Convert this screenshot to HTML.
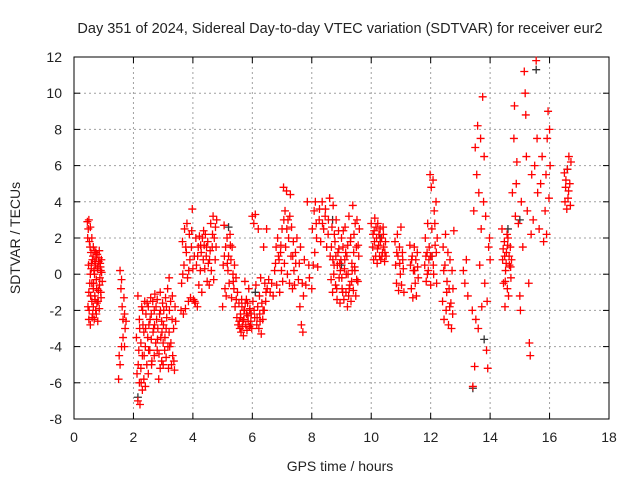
<!DOCTYPE html>
<html><head><meta charset="utf-8"><style>
html,body{margin:0;padding:0;background:#fff}
svg{display:block}
text{font-family:"Liberation Sans",sans-serif;font-size:14px;fill:#222}
</style></head><body>
<svg id="chart" width="640" height="480" viewBox="0 0 640 480">
<text x="340" y="33" text-anchor="middle" style="font-size:14.5px">Day 351 of 2024, Sidereal Day-to-day VTEC variation (SDTVAR) for receiver eur2</text>
<text x="340" y="471" text-anchor="middle">GPS time / hours</text>
<text x="20" y="238" text-anchor="middle" transform="rotate(-90 20 238)">SDTVAR / TECUs</text>
<g id="grid"></g>
<g id="axes"></g>
<g id="marks"></g>
</svg>
<script>
const xTicks=[0,2,4,6,8,10,12,14,16,18];
const yTicks=[-8,-6,-4,-2,0,2,4,6,8,10,12];
const hours=[0.45,0.47,0.48,0.5,0.5,0.52,0.53,0.55,0.55,0.57,0.58,0.6,0.6,0.62,0.63,0.65,0.65,0.67,0.68,0.7,0.7,0.72,0.73,0.75,0.75,0.77,0.78,0.8,0.8,0.82,0.83,0.85,0.85,0.87,0.88,0.9,0.9,0.92,0.95,0.5,0.55,0.6,0.65,0.7,0.75,
1.5,1.52,1.55,1.55,1.58,1.6,1.6,1.62,1.65,1.65,1.68,1.7,1.7,1.72,1.75,
2.1,2.12,2.15,2.15,2.18,2.2,2.2,2.22,2.25,2.25,2.28,2.3,2.3,2.32,2.35,2.35,2.38,2.4,2.4,2.42,2.45,2.48,2.5,2.5,2.52,2.55,2.58,2.6,2.6,2.62,2.65,2.68,2.7,2.7,2.72,2.75,2.78,2.8,2.8,2.82,2.85,2.88,2.9,2.9,2.92,2.95,2.95,2.98,3.0,3.0,3.02,3.05,3.08,3.1,3.1,3.12,3.15,3.18,3.2,3.2,3.22,3.25,3.28,3.3,3.32,3.35,3.38,3.4,3.42,
3.6,3.62,3.65,3.68,3.7,3.72,3.75,3.78,3.8,3.82,3.85,3.88,3.9,3.92,3.95,3.98,4.0,4.02,4.05,4.08,4.1,4.12,4.15,4.18,4.2,4.22,4.25,4.28,4.3,4.32,4.35,4.38,4.4,4.42,4.45,4.48,4.5,4.52,4.55,4.58,4.6,4.62,4.65,4.68,4.7,4.72,4.75,4.78,4.8,
5.0,5.02,5.05,5.08,5.1,5.12,5.15,5.18,5.2,5.22,5.25,5.28,5.3,5.32,5.35,5.38,5.4,5.42,5.45,5.48,5.5,5.52,5.55,5.58,5.6,5.62,5.65,5.68,5.7,5.72,5.75,5.78,5.8,5.82,5.85,5.88,5.9,5.92,5.95,5.98,6.0,6.02,6.05,6.08,6.1,6.12,6.15,6.18,6.2,6.22,6.25,6.28,6.3,6.32,6.35,6.38,6.4,6.42,6.45,6.48,6.5,
6.55,6.6,6.65,6.7,6.75,6.8,6.82,6.85,6.9,6.92,6.95,6.98,7.0,7.02,7.05,7.08,7.1,7.12,7.15,7.18,7.2,7.22,7.25,7.28,7.3,7.32,7.35,7.38,7.4,7.42,7.45,7.5,7.55,7.6,7.62,7.65,7.68,7.7,7.72,7.75,7.8,7.85,7.9,7.92,
8.0,8.02,8.05,8.08,8.1,8.12,8.15,8.2,8.25,8.3,8.35,8.4,8.45,8.5,8.55,8.6,8.62,8.65,8.68,8.7,8.72,8.75,8.78,8.8,8.82,8.85,8.88,8.9,8.92,8.95,8.98,9.0,9.02,9.05,9.08,9.1,9.12,9.15,9.18,9.2,9.22,9.25,9.28,9.3,9.32,9.35,9.38,9.4,9.42,9.45,9.48,9.5,9.52,9.55,9.58,9.6,
10.0,10.05,10.08,10.1,10.12,10.15,10.18,10.2,10.22,10.25,10.28,10.3,10.32,10.35,10.38,10.4,10.42,10.45,10.48,10.5,
10.8,10.82,10.85,10.88,10.9,10.92,10.95,10.98,11.0,11.02,11.05,11.08,11.1,
11.3,11.32,11.35,11.38,11.4,11.42,11.45,11.48,11.5,11.52,11.55,11.58,
11.8,11.82,11.85,11.88,11.9,11.92,11.95,11.98,12.0,12.02,12.05,12.08,12.1,12.12,12.15,12.18,12.2,12.22,
12.4,12.42,12.45,12.48,12.5,12.52,12.55,12.58,12.6,12.62,12.65,12.68,12.7,12.72,12.75,12.78,13.1,13.15,13.2,13.25,
13.4,13.42,13.45,13.48,13.5,13.52,13.55,13.58,13.6,13.62,13.65,13.68,13.7,13.72,13.75,13.78,13.8,13.82,13.85,13.88,13.9,13.92,13.95,13.98,14.0,
14.4,14.42,14.45,14.48,14.5,14.52,14.55,14.58,14.6,14.62,14.65,14.68,14.7,14.72,
14.75,14.8,14.82,14.85,14.88,14.9,14.95,15.0,15.02,15.05,15.1,15.15,15.18,15.2,15.22,15.25,15.3,15.32,15.35,15.38,15.4,15.45,15.5,15.55,15.58,15.6,15.65,15.7,15.75,15.8,15.85,15.88,15.9,15.92,15.95,15.98,16.0,16.02,
16.5,16.52,16.55,16.58,16.6,16.62,16.65,16.68,16.7,16.72];
const sdtvar=[2.9,-1.8,2.5,3.0,-2.5,1.8,-0.5,2.6,-2.8,1.2,0.3,2.0,-1.5,0.8,-2.2,1.5,-0.8,0.2,-2.5,1.3,-1.2,0.5,-2.0,0.9,-0.3,-1.6,1.1,0.4,-2.6,-0.9,0.7,1.3,-1.9,-0.2,0.6,-1.0,0.2,0.8,-0.4,-1.0,0.0,-0.5,-1.8,0.7,-2.2,
-5.8,-4.5,-5.0,0.2,-0.8,-0.3,-4.0,-1.8,-3.5,-2.5,-1.3,-2.2,-4.0,-3.0,-2.6,
-3.5,-5.5,-7.0,-1.2,-4.2,-6.0,-2.5,-7.2,-3.8,-5.2,-1.8,-6.4,-4.5,-2.8,-5.8,-3.2,-1.5,-6.2,-4.0,-2.2,-5.0,-3.5,-1.8,-5.5,-2.8,-4.2,-1.3,-3.6,-2.2,-4.8,-1.5,-3.0,-4.5,-2.0,-1.1,-3.8,-2.5,-4.2,-1.4,-3.0,-5.8,-2.2,-5.2,-1.0,-3.5,-4.8,-2.6,-1.6,-3.8,-5.0,-2.0,-4.2,-1.3,-3.0,-4.6,-2.4,-0.8,-5.2,-3.2,-0.2,-4.0,-1.5,-5.0,-2.5,-4.5,-3.0,-5.3,-1.8,-2.6,
-2.0,-0.5,1.8,-2.2,0.5,2.5,-1.9,1.2,2.8,-0.2,-1.5,2.2,0.8,-1.3,1.5,3.6,0.3,-1.4,1.0,-1.6,2.0,0.5,-1.8,1.5,-0.6,2.1,0.2,1.2,-1.0,2.0,0.8,1.6,0.3,2.2,1.0,-0.4,1.8,0.6,-0.6,1.3,2.8,0.2,1.5,3.2,-0.3,2.0,0.8,1.5,3.0,
-1.8,0.5,2.7,-0.8,1.5,-1.2,2.0,0.2,1.0,-0.5,2.2,0.8,-1.3,1.5,0.0,-0.8,0.5,-1.8,-0.2,-2.4,-1.0,-2.8,-1.6,-3.0,-2.2,-3.2,-1.8,-2.6,-3.4,-2.0,-0.4,-2.8,-1.4,-3.1,-2.3,-0.8,-2.9,-1.9,-2.6,-3.0,3.2,-1.5,2.8,-2.4,3.3,-0.6,-2.8,-1.8,2.5,-3.0,-2.2,-0.2,-3.3,-1.6,-2.5,1.5,-2.0,-0.5,-1.5,2.5,-0.8,
-0.3,-1.0,-0.5,-1.2,0.2,1.5,-0.6,2.0,0.8,-1.0,1.2,0.2,2.5,-0.4,4.8,0.6,3.5,1.5,4.6,0.0,3.0,2.0,-0.5,4.4,1.0,2.6,-0.8,1.8,0.2,-0.6,1.2,2.0,-0.3,-1.8,1.5,-2.8,-0.5,-3.2,-1.2,0.8,-0.6,4.0,0.5,-0.2,
-0.8,2.5,0.5,3.5,1.2,4.0,2.8,0.4,3.0,1.8,4.0,2.5,3.2,1.5,2.2,4.2,1.0,-0.3,2.6,-1.0,3.8,0.5,1.8,-0.6,3.0,-1.4,1.2,2.4,-0.2,-1.6,0.8,2.0,-0.8,1.5,-1.4,0.3,2.6,-1.0,1.0,-1.8,0.0,3.2,-0.6,1.8,-1.5,0.6,3.8,-0.9,2.2,0.2,-1.2,1.5,3.0,-0.4,1.0,2.5,
2.8,1.5,0.8,2.4,3.1,1.0,2.0,0.6,2.8,1.6,1.0,2.5,0.8,2.0,1.2,2.6,1.5,0.7,1.8,1.0,
1.8,0.5,-0.5,2.2,1.0,-0.9,1.5,0.0,2.6,-0.6,1.2,0.3,-1.0,
1.6,0.5,-0.8,1.0,-1.3,0.2,1.5,-0.5,0.8,-1.2,1.2,-0.2,
0.5,2.0,-0.4,1.2,2.8,0.2,1.5,5.5,-0.6,4.8,1.0,5.2,0.0,3.5,1.6,4.0,-0.5,2.0,
-1.5,1.5,-2.5,0.5,2.2,-2.0,-0.4,1.2,-2.8,-0.8,0.8,-1.6,-3.0,0.2,-0.8,2.4,0.2,-0.5,0.8,-1.2,
-2.0,-6.2,3.5,-5.1,7.0,-2.5,5.5,8.2,-3.0,4.5,0.5,7.5,2.5,-1.8,9.8,4.0,6.5,-0.5,3.2,-4.2,-1.5,-5.2,1.5,2.0,0.8,
2.5,0.8,-0.5,1.8,-1.8,0.2,1.2,-0.8,2.0,-1.2,0.5,1.5,-0.2,0.8,
4.5,7.5,9.3,3.2,5.0,6.2,2.8,-1.2,-2.0,4.0,1.5,11.2,10.0,8.8,6.5,3.5,-0.5,-3.8,-4.5,2.2,5.5,3.0,6.0,11.8,7.5,4.5,2.5,5.0,6.5,1.8,3.5,5.5,2.2,7.5,9.0,4.2,8.0,6.0,
5.6,4.0,5.2,3.6,5.8,4.2,6.5,5.0,3.8,6.2];
const hoursExtra=[0.46,0.49,0.51,0.54,0.56,0.59,0.61,0.64,0.66,0.69,0.71,0.74,0.76,0.79,0.81,0.84,0.86,0.89,0.91,0.93,
2.16,2.21,2.26,2.31,2.36,2.41,2.46,2.51,2.56,2.61,2.66,2.71,2.76,2.81,2.86,2.91,2.96,3.01,3.06,3.11,3.16,3.21,3.26,3.31,3.36,
3.66,3.76,3.86,3.96,4.06,4.16,4.26,4.36,4.46,4.56,4.66,4.76,
5.06,5.16,5.26,5.36,5.46,5.56,5.61,5.66,5.71,5.76,5.81,5.86,5.91,5.96,6.06,6.16,6.26,6.36,6.46,5.64,5.74,5.84,5.94,6.24,
6.78,6.88,6.96,7.06,7.16,7.26,7.36,7.46,7.58,
8.16,8.26,8.36,8.46,8.56,8.66,8.71,8.76,8.81,8.86,8.91,8.96,9.01,9.06,9.11,9.16,9.21,9.26,9.31,9.36,9.41,9.46,9.51,9.56,8.74,8.84,8.94,9.04,9.14,9.24,9.34,9.44,
10.06,10.11,10.16,10.21,10.26,10.31,10.36,10.41,10.46,
10.86,10.96,11.06,11.36,11.46,11.56,
11.84,11.89,11.94,11.99,12.04,12.09,12.14,12.19,
12.44,12.54,12.64,12.74,
14.44,14.49,14.54,14.59,14.64,14.69,14.51,14.57,
16.54,16.64];
const sdtvarExtra=[2.0,0.5,-2.0,1.5,-1.2,0.6,-2.4,1.0,-0.5,0.0,-1.4,1.2,-0.8,0.3,-1.5,0.9,-0.6,0.4,-1.3,0.1,
-5.0,-3.0,-6.0,-2.0,-4.5,-3.0,-1.6,-4.2,-2.5,-5.0,-3.2,-2.8,-1.8,-3.6,-4.4,-2.0,-3.2,-2.8,-3.5,-1.8,-4.0,-2.0,-3.8,-1.2,-4.8,
0.0,1.5,0.2,2.4,-1.5,1.0,1.6,2.4,1.5,0.8,2.2,2.6,
1.0,0.6,1.6,-0.4,-1.4,-2.6,-2.4,-2.9,-2.5,-1.6,-2.2,-2.6,-2.0,-2.2,-2.0,-2.4,-2.6,-2.0,-1.0,-1.4,-2.0,-1.6,-2.8,-1.2,
0.6,1.0,1.6,3.0,2.5,3.2,1.0,0.6,0.6,
2.0,3.6,2.8,3.6,3.0,1.5,0.8,2.2,1.0,0.5,1.4,0.2,-0.2,2.4,0.8,0.0,1.6,-0.8,2.0,0.2,1.2,2.8,-0.3,1.6,0.0,-0.8,0.6,-1.0,1.2,-1.2,-0.4,0.4,
2.2,1.8,2.6,1.4,2.2,1.8,1.0,2.2,1.2,
1.2,0.6,0.8,0.8,0.2,0.4,
1.0,0.0,0.8,1.0,2.5,0.5,2.8,1.2,
0.2,-1.0,-1.8,-2.2,
1.4,1.0,0.6,1.6,1.0,0.4,-0.4,2.2,
4.8,4.6];
const hours2=[2.15,13.42,15.55,14.6,9.0,5.2,16.6,8.7,13.8,15.0,6.1,12.0,10.3];
const sdtvar2=[-6.8,-6.3,11.3,2.5,0.5,2.6,5.8,3.0,-3.6,3.0,-1.0,1.0,2.0];

const L=74,R=609,T=57,B=419;
const xs=v=>L+(v-0)/(18-0)*(R-L);
const ys=v=>B-(v+8)/(20)*(B-T);
const NS='http://www.w3.org/2000/svg';
function mk(tag,attrs,parent){const e=document.createElementNS(NS,tag);for(const k in attrs)e.setAttribute(k,attrs[k]);parent.appendChild(e);return e;}
const grid=document.getElementById('grid'),axes=document.getElementById('axes'),marks=document.getElementById('marks');
xTicks.forEach(t=>{
  const x=xs(t);
  if(t>0&&t<18){const g=mk('line',{x1:x,x2:x,y1:T,y2:B,stroke:'#a0a0a0','stroke-dasharray':'2,3','stroke-width':1},grid);
  
  }
  mk('line',{x1:x,x2:x,y1:B,y2:B-6,stroke:'#000'},axes);
  mk('line',{x1:x,x2:x,y1:T,y2:T+6,stroke:'#000'},axes);
  const tx=mk('text',{x:x,y:442,'text-anchor':'middle'},axes);
  tx.textContent=t;
  
  
});
yTicks.forEach(t=>{
  const y=ys(t);
  if(t>-8&&t<12){const g=mk('line',{x1:L,x2:R,y1:y,y2:y,stroke:'#a0a0a0','stroke-dasharray':'2,3','stroke-width':1},grid);
  
  }
  mk('line',{x1:L,x2:L+6,y1:y,y2:y,stroke:'#000'},axes);
  mk('line',{x1:R,x2:R-6,y1:y,y2:y,stroke:'#000'},axes);
  const tx=mk('text',{x:62,y:y+5,'text-anchor':'end'},axes);
  tx.textContent=t;
  
  
});
const fr=mk('rect',{x:L,y:T,width:R-L,height:B-T,fill:'none',stroke:'#000','stroke-width':1},axes);


function plus(h,v,color,name){
  const x=xs(h),y=ys(v),s=4;
  const p=mk('path',{d:`M${x-s},${y}H${x+s}M${x},${y-s}V${y+s}`,stroke:color,'stroke-width':1.3,fill:'none'},marks);
  
  
}
hours2.forEach((h,i)=>{plus(h,sdtvar2[i],'#333','sdtvar-point-secondary');});
hours.forEach((h,i)=>{plus(h,sdtvar[i],'#ff0000','sdtvar-point');});
hoursExtra.forEach((h,i)=>{plus(h,sdtvarExtra[i],'#ff0000','sdtvar-point');});
</script>
</body></html>
